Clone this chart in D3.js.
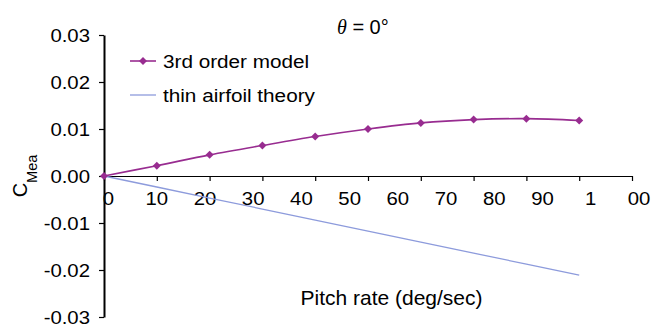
<!DOCTYPE html>
<html>
<head>
<meta charset="utf-8">
<script src="https://cdn.jsdelivr.net/npm/d3@7"></script>
<style>
	body { margin: 0; background: #fff; }
	svg { display: block; font-family: "Liberation Sans", Arial, sans-serif; }
</style>
</head>
<body>
<script>

// pitch rate values (deg/sec)
var pitchRate = [0, 10, 20, 30, 40, 50, 60, 70, 80, 90];

// series
var thirdOrder = [0, 0.0022, 0.0045, 0.0065, 0.0084, 0.0100, 0.0113, 0.0120, 0.0122, 0.0118];
var thinAirfoil = [0, -0.00234, -0.00469, -0.00703, -0.00938, -0.01172, -0.01406, -0.01641, -0.01875, -0.0211];

var yTicks = [-0.03, -0.02, -0.01, 0, 0.01, 0.02, 0.03];
var xTicks = [0, 10, 20, 30, 40, 50, 60, 70, 80, 90, 100];
// the x labels in the original drift off their ticks and "100" is split
var xTickLabels = ['0', '10', '20', '30', '40', '50', '60', '70', '80', '90', '1', '00'];

var seriesNames = ['3rd order model', 'thin airfoil theory'];
var seriesColors = ['#982c90', '#8d9bdc'];

(function(){

	var w = 653;
	var h = 324;

	var svg = d3.select('body')
		.append('svg')
		.attr('width', w)
		.attr('height', h);

	var x = d3.scaleLinear().domain([0, 100]).range([104, 632]);
	var y = d3.scaleLinear().domain([-0.03, 0.03]).range([317, 35]);
	// positions for the (misplaced) x labels
	var xLab = d3.scaleLinear().domain([0, xTickLabels.length - 1]).range([108.5, 639]);

	// x axis along zero
	var xAxis = svg.append('g')
		.attr('transform', 'translate(0,' + y(0) + ')')
		.call(d3.axisBottom(x).tickValues(xTicks).tickFormat('').tickSize(5).tickSizeOuter(0));
	xAxis.select('.domain').attr('stroke', '#000').attr('stroke-width', 1.2);
	xAxis.selectAll('.tick line').attr('stroke', '#000').attr('stroke-width', 1.2);

	svg.append('g')
		.selectAll('text')
		.data(xTickLabels)
		.enter()
		.append('text')
		.attr('text-anchor', 'middle')
		.attr('font-size', 18.5)
		.attr('fill', '#000')
		.attr('transform', function(d, i){
			return 'translate(' + xLab(i) + ',' + (y(0) + 29) + ') scale(1.1,1)';
		})
		.text(function(d){ return d; });

	// y axis
	var yAxis = svg.append('g')
		.attr('transform', 'translate(' + x(0) + ',0)')
		.call(d3.axisLeft(y).tickValues(yTicks).tickFormat(d3.format('.2f')).tickSize(5).tickSizeOuter(0));
	yAxis.select('.domain').attr('stroke', '#000').attr('stroke-width', 2);
	yAxis.selectAll('.tick line').attr('stroke', '#000').attr('stroke-width', 1.2);
	yAxis.selectAll('.tick text')
		.attr('x', null)
		.attr('dy', null)
		.attr('font-size', 18.5)
		.attr('font-family', '"Liberation Sans", Arial, sans-serif')
		.attr('fill', '#000')
		.attr('text-anchor', 'end')
		.attr('transform', 'translate(-14,6.7) scale(1.1,1)')
		.text(function(d){ return d < 0 ? '-' + d3.format('.2f')(-d) : d3.format('.2f')(d); });

	// lines
	var line = d3.line()
		.x(function(d, i){ return x(pitchRate[i]); })
		.y(function(d){ return y(d); });

	svg.append('path')
		.datum(thinAirfoil)
		.attr('fill', 'none')
		.attr('stroke', seriesColors[1])
		.attr('stroke-width', 1.3)
		.attr('d', line);

	svg.append('path')
		.datum(thirdOrder)
		.attr('fill', 'none')
		.attr('stroke', seriesColors[0])
		.attr('stroke-width', 1.6)
		.attr('d', line.curve(d3.curveCatmullRom));

	var diamond = 'M0,-4L4,0L0,4L-4,0Z';

	svg.append('g')
		.selectAll('path')
		.data(thirdOrder)
		.enter()
		.append('path')
		.attr('d', diamond)
		.attr('fill', seriesColors[0])
		.attr('transform', function(d, i){
			return 'translate(' + x(pitchRate[i]) + ',' + y(d) + ')';
		});

	// legend
	var legend = svg.append('g')
		.selectAll('g')
		.data(seriesNames)
		.enter()
		.append('g')
		.attr('transform', function(d, i){
			return 'translate(130,' + (61 + i * 34) + ')';
		});

	legend.append('line')
		.attr('x1', 0)
		.attr('x2', 26)
		.attr('stroke', function(d, i){ return seriesColors[i]; })
		.attr('stroke-width', function(d, i){ return i == 0 ? 1.6 : 1.3; });

	legend.filter(function(d, i){ return i == 0; })
		.append('path')
		.attr('d', diamond)
		.attr('fill', seriesColors[0])
		.attr('transform', 'translate(13,0)');

	legend.append('text')
		.attr('font-size', 18.5)
		.attr('fill', '#000')
		.attr('transform', 'translate(33,7) scale(1.12,1)')
		.text(function(d){ return d; });

	// title
	var title = svg.append('text')
		.attr('x', 337)
		.attr('y', 34)
		.attr('font-size', 20)
		.attr('fill', '#000');
	title.append('tspan')
		.attr('font-family', '"Liberation Serif", "Times New Roman", serif')
		.attr('font-style', 'italic')
		.text('\u03b8');
	title.append('tspan')
		.text(' = 0\u00b0');

	// axis titles
	svg.append('text')
		.attr('x', 391.5)
		.attr('y', 305)
		.attr('text-anchor', 'middle')
		.attr('font-size', 21)
		.attr('fill', '#000')
		.text('Pitch rate (deg/sec)');

	var ylab = svg.append('text')
		.attr('transform', 'translate(27,176) rotate(-90)')
		.attr('text-anchor', 'middle')
		.attr('font-size', 20)
		.attr('fill', '#000');
	ylab.append('tspan').text('C');
	ylab.append('tspan')
		.attr('font-size', 14.5)
		.attr('dy', 10)
		.text('Mea');

})();

</script>
</body>
</html>
